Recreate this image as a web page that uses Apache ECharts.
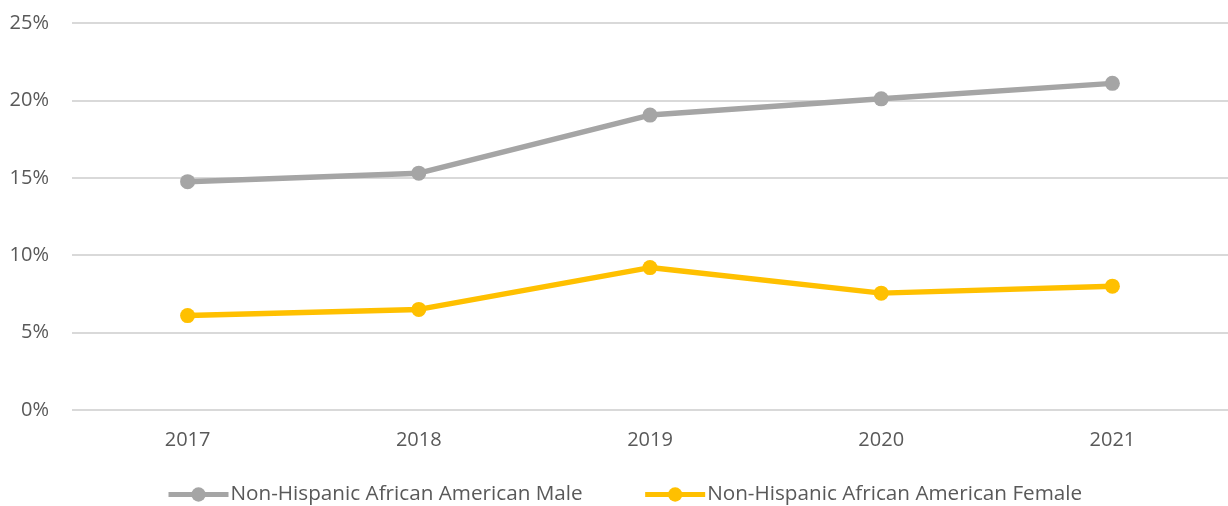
<!DOCTYPE html>
<html>
<head>
<meta charset="utf-8">
<script src="https://cdn.jsdelivr.net/npm/echarts@6/dist/echarts.min.js"></script>
<style>
html, body { margin: 0; padding: 0; background: #fff; }
#main { width: 1228px; height: 506px; }
</style>
</head>
<body>
<div id="main"></div>
<script>
// 数据
var years = ['2017', '2018', '2019', '2020', '2021'];
var maleValues = [14.75, 15.3, 19.05, 20.1, 21.1];
var femaleValues = [6.1, 6.5, 9.2, 7.55, 8.0];
var maleName = 'Non-Hispanic African American Male';
var femaleName = 'Non-Hispanic African American Female';

var myChart = echarts.init(document.getElementById('main'));

myChart.setOption({
	animation : false,
	textStyle : {
		fontFamily : 'Open Sans'
	},
	grid : {
		left : 72,
		right : 0,
		top : 23,
		bottom : 96
	},
	legend : {
		data : [ maleName, femaleName ],
		top : 484,
		left : 166,
		padding : 0,
		itemWidth : 60,
		itemHeight : 18,
		itemGap : 60,
		lineStyle : { width : 5 },
		textStyle : {
			fontSize : 20.7,
			color : '#595959',
			padding : [ 0, 0, 0, -3 ]
		}
	},
	xAxis : {
		type : 'category',
		data : years,
		boundaryGap : true,
		axisLine : { show : false },
		axisTick : { show : false },
		axisLabel : {
			fontSize : 20,
			color : '#595959',
			margin : 20
		}
	},
	yAxis : {
		type : 'value',
		min : 0,
		max : 25,
		interval : 5,
		axisLine : { show : false },
		axisTick : { show : false },
		axisLabel : {
			fontSize : 20,
			color : '#595959',
			margin : 23,
			formatter : '{value}%'
		},
		splitLine : {
			lineStyle : { color : '#d9d9d9', width : 2 }
		}
	},
	series : [ {
		name : maleName,
		type : 'line',
		data : maleValues,
		symbol : 'circle',
		symbolSize : 15,
		color : '#a5a5a5',
		lineStyle : { width : 5.5, color : '#a5a5a5' },
		itemStyle : { color : '#a5a5a5' }
	}, {
		name : femaleName,
		type : 'line',
		data : femaleValues,
		symbol : 'circle',
		symbolSize : 15,
		color : '#ffc000',
		lineStyle : { width : 5.5, color : '#ffc000' },
		itemStyle : { color : '#ffc000' }
	} ]
});
</script>
</body>
</html>
